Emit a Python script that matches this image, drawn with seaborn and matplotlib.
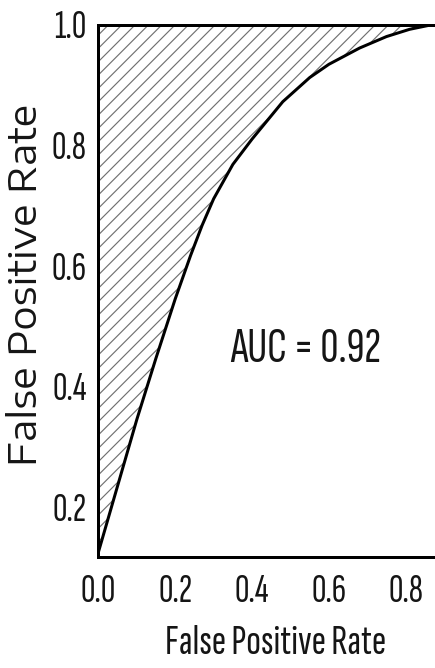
import numpy as np
import pandas as pd
import matplotlib
matplotlib.use("Agg")
import matplotlib.pyplot as plt
from matplotlib import font_manager
import seaborn as sns

# ---- data ----
fpr = [0.0, 0.05, 0.10, 0.15, 0.20, 0.24, 0.27, 0.30, 0.35, 0.40, 0.48, 0.55,
       0.60, 0.68, 0.75, 0.81, 0.871]
tpr = [0.125, 0.235, 0.345, 0.447, 0.545, 0.617, 0.667, 0.711, 0.768, 0.810,
       0.872, 0.912, 0.934, 0.961, 0.980, 0.992, 1.0]
auc_text = "AUC = 0.92"
xticks = [0.0, 0.2, 0.4, 0.6, 0.8]
yticks = [0.2, 0.4, 0.6, 0.8, 1.0]
xlabel = "False Positive Rate"
ylabel = "False Positive Rate"

df = pd.DataFrame({"fpr": fpr, "tpr": tpr})

sns.set_style("white")
names = {f.name for f in font_manager.fontManager.ttflist}
def pick(*cands):
    for c in cands:
        if c in names:
            return c
    return "DejaVu Sans"
COND = pick("Sofia Sans Extra Condensed", "Roboto Condensed", "Archivo Narrow")
EXP = pick("Encode Sans Expanded", "Encode Sans Semi Expanded", "Liberation Sans")
plt.rcParams["font.family"] = [COND, "DejaVu Sans"]
plt.rcParams["hatch.linewidth"] = 0.7
plt.rcParams["hatch.color"] = "#707070"

DPI = 120
W, H = 435, 668
fig = plt.figure(figsize=(W / DPI, H / DPI), dpi=DPI)
L, R, T, B = 98.4, 433.0, 24.5, 557.0
ax = fig.add_axes([L / W, 1 - B / H, (R - L) / W, (B - T) / H])

ax.fill_between(df["fpr"], df["tpr"], 1.0, facecolor="white",
                edgecolor="#707070", hatch="///", linewidth=0, zorder=1)
sns.lineplot(data=df, x="fpr", y="tpr", ax=ax, color="black", linewidth=1.8,
             zorder=3, estimator=None, sort=False)

ax.set_xlim(0, 0.871)
ax.set_ylim(0.117, 1.0)
ax.set_xticks(xticks)
ax.set_yticks(yticks)
ax.set_xticklabels([f"{v:.1f}" for v in xticks])
ax.set_yticklabels([f"{v:.1f}" for v in yticks])

for side in ["left", "bottom", "top"]:
    ax.spines[side].set_visible(True)
    ax.spines[side].set_color("black")
    ax.spines[side].set_linewidth(1.8)
ax.spines["right"].set_visible(False)

ax.tick_params(axis="both", direction="in", length=3, width=0.8,
               color="#888888", labelsize=24, labelcolor="#151515")
ax.tick_params(axis="x", pad=10)
ax.tick_params(axis="y", pad=7)

ax.set_xlabel(xlabel, fontsize=26, color="#151515")
ax.xaxis.set_label_coords((276 - L) / (R - L), (B - 643) / (B - T))
ax.xaxis.label.set_verticalalignment("center")

ax.set_ylabel(ylabel, fontsize=23, color="#151515",
              family=[EXP, "DejaVu Sans"])
ax.yaxis.set_label_coords((26 - L) / (R - L), (B - 285) / (B - T))
ax.yaxis.label.set_verticalalignment("center")

ax.text(0.54, 0.462, auc_text, fontsize=30, color="#151515",
        ha="center", va="center", zorder=4)

fig.savefig("out.png", dpi=DPI)
